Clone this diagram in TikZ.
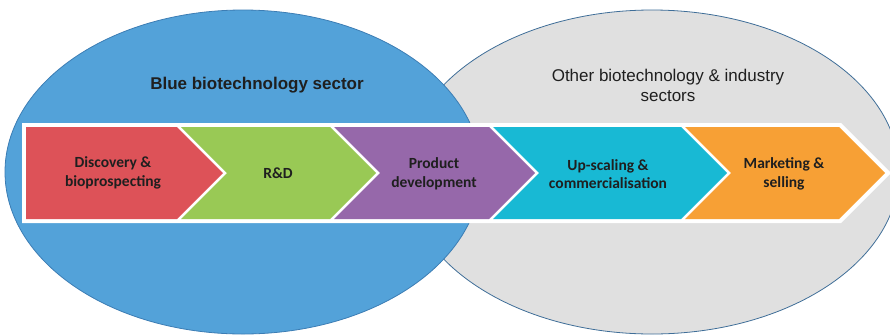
\documentclass[tikz,border=0pt]{standalone}
\usepackage{fontspec}
\setmainfont{Carlito}
\newfontfamily\titlefont{Liberation Sans}
\usetikzlibrary{shapes.geometric}

\definecolor{bluefill}{HTML}{53A2D9}
\definecolor{blueline}{HTML}{3C7DB4}
\definecolor{grayfill}{HTML}{E0E0E0}
\definecolor{grayline}{HTML}{3F6E98}
\definecolor{redfill}{HTML}{DD5258}
\definecolor{greenfill}{HTML}{99C955}
\definecolor{purplefill}{HTML}{9668AA}
\definecolor{cyanfill}{HTML}{18B9D4}
\definecolor{orangefill}{HTML}{F7A035}

\begin{document}
\begin{tikzpicture}[x=1pt,y=-1pt]
\tikzset{sector/.style = {shape=ellipse,draw,line width=0.8pt,inner sep=0pt,minimum height=324pt}}
\tikzset{stage/.style = {shape=rectangle,align=center,text=black!88,font=\bfseries\fontsize{15.5}{18.5}\selectfont}}
\tikzset{title/.style = {shape=rectangle,align=center,text=black!88,font=\titlefont\fontsize{17}{20}\selectfont}}
\useasboundingbox (0,0) rectangle (890,335);

%sectors
\node[sector, fill=grayfill, draw=grayline, minimum width=494pt] (other) at (652,172) {};
\node[sector, fill=bluefill, draw=blueline, minimum width=476pt] (blue) at (243,172) {};

\node[title] (bluelab) at (257,85) {\bfseries Blue biotechnology sector};
\node[title] (otherlab) at (668,85) {Other biotechnology \& industry\\sectors};

%chain
\fill[white] (22,123) -- (841,123) -- (891,173) -- (841,223) -- (22,223) -- cycle;

% ----- stages
\fill[redfill] (26,127) -- (177,127) -- (223,173) -- (177,219) -- (26,219) -- cycle;
\fill[greenfill] (181,127) -- (330,127) -- (376,173) -- (330,219) -- (181,219) -- (227,173) -- cycle;
\fill[purplefill] (334,127) -- (489,127) -- (535,173) -- (489,219) -- (334,219) -- (380,173) -- cycle;
\fill[cyanfill] (493,127) -- (681,127) -- (727,173) -- (681,219) -- (493,219) -- (539,173) -- cycle;
\fill[orangefill] (685,127) -- (839,127) -- (885,173) -- (839,219) -- (685,219) -- (731,173) -- cycle;

\node[stage] (disc) at (113,173) {Discovery \&\\bioprospecting};
\node[stage] (rd) at (278,173) {R\&D};
\node[stage] (prod) at (434,174) {Product\\development};
\node[stage] (up) at (608,174) {Up-scaling \&\\commercialisation};
\node[stage] (mkt) at (784,174) {Marketing \&\\selling};
\end{tikzpicture}
\end{document}
